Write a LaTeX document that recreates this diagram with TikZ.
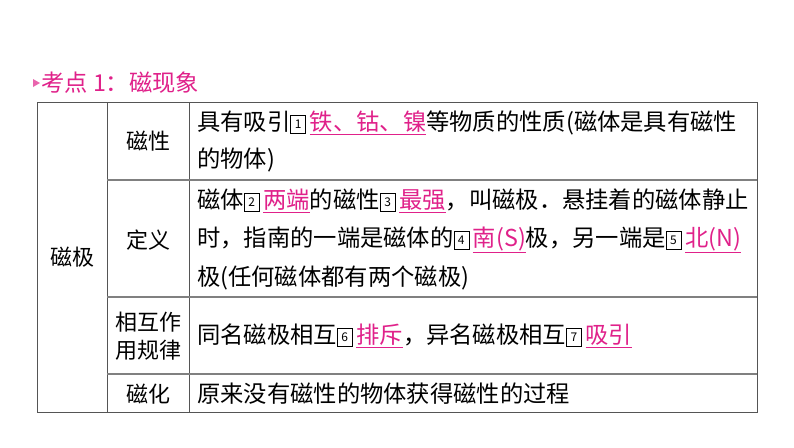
\documentclass[tikz,border=0pt]{standalone}
\usepackage{fontspec}
\setmainfont{Noto Sans CJK SC}
\definecolor{pk}{HTML}{E0218A}
\definecolor{ln}{HTML}{555555}
\newcommand{\bn}[1]{\tikz[baseline=-0.5ex]\node[draw,line width=0.6pt,inner sep=0.8pt,minimum width=15pt,minimum height=18pt,font=\fontsize{12}{12}\selectfont]{#1};}
\newcommand{\ans}[1]{\textcolor{pk}{\underline{#1}}}
\begin{document}
\begin{tikzpicture}[x=1pt,y=-1pt,
  txt/.style={anchor=west,inner sep=0pt,font=\fontsize{23.3}{23.3}\selectfont},
  cell/.style={inner sep=0pt,font=\fontsize{22}{22}\selectfont,align=center}]
\useasboundingbox[fill=white] (0,0) rectangle (794,447);
\fill[pk!70] (33,79) -- (40,83) -- (33,87) -- cycle;
\node[txt,text=pk] (title) at (41,83) {考点 1：磁现象};
% grid
\draw[ln,line width=1pt] (37,102) rectangle (757,412);
\draw[ln,line width=1pt] (107,102) -- (107,412);
\draw[ln,line width=1pt] (189,102) -- (189,412);
\draw[gray,line width=1.5pt] (107,180) -- (757,180);
\draw[gray,line width=1.5pt] (107,297) -- (757,297);
\draw[gray,line width=1.5pt] (107,374) -- (757,374);
\node[cell] (c1) at (72,257) {磁极};
\node[cell] (r1) at (148,141) {磁性};
\node[cell] (r2) at (148,240) {定义};
\node[cell] (r3) at (148,336) {相互作\\[6pt]用规律};
\node[cell] (r4) at (148,394) {磁化};
\node[txt] (t1a) at (197,123) {具有吸引\bn{1}\,\ans{铁、钴、镍}等物质的性质(磁体是具有磁性};
\node[txt] (t1b) at (197,160) {的物体)};
\node[txt] (t2a) at (197,201) {磁体\bn{2}\,\ans{两端}的磁性\bn{3}\,\ans{最强}，叫磁极．悬挂着的磁体静止};
\node[txt] (t2b) at (197,240) {时，指南的一端是磁体的\bn{4}\,\ans{南(S)}极，另一端是\bn{5}\,\ans{北(N)}};
\node[txt] (t2c) at (197,278) {极(任何磁体都有两个磁极)};
\node[txt] (t3) at (197,336) {同名磁极相互\bn{6}\,\ans{排斥}，异名磁极相互\bn{7}\,\ans{吸引}};
\node[txt] (t4) at (197,394) {原来没有磁性的物体获得磁性的过程};
\end{tikzpicture}
\end{document}
